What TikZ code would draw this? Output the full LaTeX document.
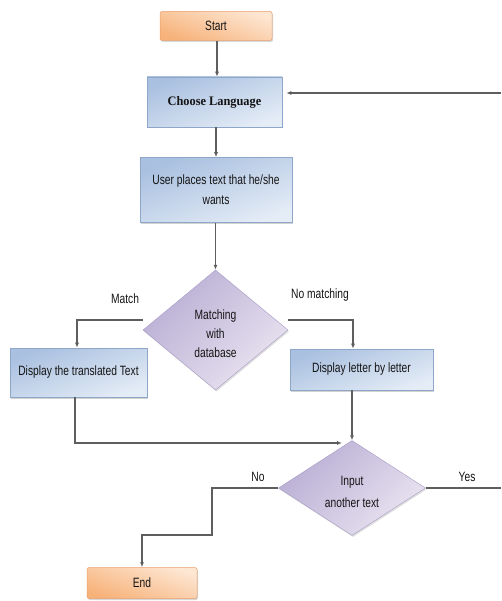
\documentclass[tikz,border=0pt]{standalone}
\usepackage{fontspec}
\setmainfont{Liberation Sans}[FakeStretch=0.76]
\newfontfamily\chfont{Liberation Serif}[FakeStretch=0.95]
\usetikzlibrary{shapes.geometric,shadows,arrows.meta}
\definecolor{blA}{HTML}{A9C0E0}
\definecolor{blB}{HTML}{E4ECF6}
\definecolor{blE}{HTML}{8EA6C8}
\definecolor{orA}{HTML}{F7B27A}
\definecolor{orB}{HTML}{FDE6D2}
\definecolor{orE}{HTML}{E8A070}
\definecolor{lvA}{HTML}{B9AED4}
\definecolor{lvB}{HTML}{E9E4F1}
\definecolor{lvE}{HTML}{A79CC4}
\definecolor{ln}{HTML}{5E5E5E}
\tikzset{
  x=1pt, y=-1pt,
  txt/.style={font=\fontsize{13.5}{15}\selectfont, text=black!92},
  bluebox/.style={rectangle, draw=blE, line width=0.6pt, top color=blA, bottom color=blB,
    shading angle=20, minimum width=#1, align=center, txt,
    drop shadow={opacity=0.35, shadow xshift=1pt, shadow yshift=-1.5pt}},
  orbox/.style={rectangle, rounded corners=2pt, draw=orE, line width=0.5pt, top color=orA, bottom color=orB,
    shading angle=160, align=center, txt,
    drop shadow={opacity=0.3, shadow xshift=1pt, shadow yshift=-1.5pt}},
  dia/.style={diamond, draw=lvE, line width=0.4pt, left color=lvA, right color=lvB,
    shading angle=45, align=center, txt, inner sep=0pt,
    drop shadow={opacity=0.25, shadow xshift=1pt, shadow yshift=-1.5pt}},
  conn/.style={draw=ln, line width=1.3pt},
  arr/.style={conn, -{Latex[length=5pt,width=4pt]}},
  lbl/.style={txt}
}
\begin{document}
\begin{tikzpicture}
\useasboundingbox (0,0) rectangle (501,601);
\fill[white] (0,0) rectangle (501,601);

\node[orbox, minimum width=112pt, minimum height=29pt] (start) at (216,26) {Start};
\node[bluebox=135pt, minimum height=50pt, font=\chfont\bfseries\fontsize{13}{15}\selectfont] (choose) at (214.5,102) {Choose Language};
\node[bluebox=152pt, minimum height=65pt] (user) at (216,190) {User places text that he/she\\[5pt] wants};
\node[dia, minimum width=145pt, minimum height=120pt] (match) at (215.5,330) {\\[2pt]Matching\\[4pt] with\\[4pt] database};
\node[bluebox=137pt, minimum height=49pt] (trans) at (78.5,372.5) {Display the translated Text};
\node[bluebox=143pt, minimum height=41pt] (letter) at (361.5,369.5) {Display letter by letter};
\node[dia, minimum width=147pt, minimum height=95pt] (input) at (352,488) {\\[2pt]Input\\[7pt] another text};
\node[orbox, minimum width=110pt, minimum height=31pt] (end) at (142,583) {End};

\coordinate (ret) at (501,93);
\coordinate (yes) at (501,488);
\coordinate (j1) at (342,443);
\coordinate (n1) at (212,488);
\coordinate (n2) at (212,535);
\coordinate (n3) at (142,535);

\draw[arr] (start.south -| 217,0) -- (choose.north -| 217,0);
\draw[arr, shorten >=4pt] (ret) -- (choose.east |- ret);
\draw[arr] (choose.south -| 216,0) -- (user.north -| 216,0);
\draw[arr] (user.south -| 215.5,0) -- (match.north);
\draw[arr] ([yshift=10pt]match.west) -| (trans.north -| 77,0);
\draw[arr] ([yshift=10pt]match.east) -| ([xshift=-8.5pt]letter.north);
\draw[arr] (input.north |- letter.south) -- (input.north);
\draw[arr] (trans.south -| 75,0) |- (j1);
\draw[conn] (input.east) -- (yes);
\draw[arr] (input.west) -- (n1) -- (n2) -- (n3) -- (end.north -| n3);

\node[lbl] (lmatch) at (125,299) {Match};
\node[lbl] (lnomatch) at (320,295) {No matching};
\node[lbl] (lno) at (258,477) {No};
\node[lbl] (lyes) at (467,477) {Yes};
\end{tikzpicture}
\end{document}
